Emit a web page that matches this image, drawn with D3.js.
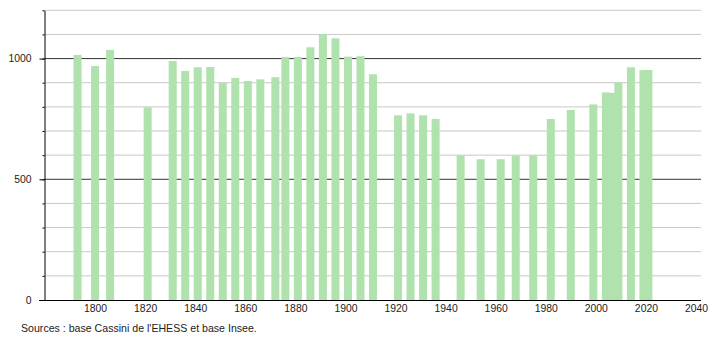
<!DOCTYPE html>
<html>
<head>
<meta charset="utf-8">
<script src="https://cdn.jsdelivr.net/npm/d3@7"></script>
<style>
  body { margin: 0; background: #fff; }
  text { font-family: "Liberation Sans", Arial, sans-serif; }
</style>
</head>
<body>
<div id="chart"></div>
<script>
// census years and population
const years = [1793, 1800, 1806, 1821, 1831, 1836, 1841, 1846, 1851, 1856,
  1861, 1866, 1872, 1876, 1881, 1886, 1891, 1896, 1901, 1906,
  1911, 1921, 1926, 1931, 1936, 1946, 1954, 1962, 1968, 1975,
  1982, 1990, 1999, 2004, 2006, 2009, 2014, 2019, 2021]
const population = [1015, 969, 1036, 798, 990, 949, 964, 965, 899, 920,
  907, 914, 923, 1007, 1007, 1047, 1101, 1084, 1008, 1010,
  935, 765, 773, 765, 750, 599, 583, 583, 598, 599,
  750, 787, 810, 860, 858, 902, 964, 952, 953]
const xTicks = [1800, 1820, 1840, 1860, 1880, 1900, 1920, 1940, 1960, 1980, 2000, 2020, 2040]
const yMajor = [0, 500, 1000]
const yMinor = d3.range(0, 1201, 100)
const sourceText = "Sources : base Cassini de l'EHESS et base Insee."

let width = 710
let height = 340

let svg = d3.select("#chart")
  .append("svg")
  .attr("width", width)
  .attr("height", height)

let x = d3.scaleLinear().domain([1780, 2042]).range([45, 701])
let y = d3.scaleLinear().domain([0, 1200]).range([300, 10.3])

// light grid every 100
svg.append("g")
  .selectAll("line")
  .data(yMinor.filter(v => !yMajor.includes(v)))
  .enter().append("line")
  .attr("x1", 44.5)
  .attr("x2", 701)
  .attr("y1", d => y(d))
  .attr("y2", d => y(d))
  .attr("stroke", "#c8c8c8")
  .attr("stroke-width", 1)

// darker lines at 500 and 1000
svg.append("g")
  .selectAll("line")
  .data(yMajor.filter(v => v > 0))
  .enter().append("line")
  .attr("x1", 44.5)
  .attr("x2", 701)
  .attr("y1", d => y(d))
  .attr("y2", d => y(d))
  .attr("stroke", "#333")
  .attr("stroke-width", 1)

// bars
const half = 1.6
svg.append("g")
  .selectAll("rect")
  .data(years)
  .enter().append("rect")
  .attr("x", d => x(d - half))
  .attr("width", d => x(d + half) - x(d - half))
  .attr("y", (d, i) => y(population[i]))
  .attr("height", (d, i) => y(0) - y(population[i]))
  .attr("fill", "#b0e2ad")

// y axis: minor ticks
svg.append("g")
  .attr("transform", "translate(44.5,0)")
  .call(d3.axisLeft(y).tickValues(yMinor).tickSize(2).tickFormat(""))
  .call(g => g.select(".domain").remove())
  .selectAll("line").attr("stroke", "#000")

// y axis: labelled ticks
let yAxis = svg.append("g")
  .attr("transform", "translate(44.5,0)")
  .call(d3.axisLeft(y).tickValues(yMajor).tickSize(5).tickPadding(8).tickSizeOuter(0).tickFormat(d3.format("d")))
yAxis.select(".domain").attr("stroke", "#000")
yAxis.selectAll("text")
  .attr("font-size", 10.4)
  .attr("font-family", "Liberation Sans, Arial, sans-serif")
  .attr("fill", "#222")

// x axis
let xAxis = svg.append("g")
  .attr("transform", "translate(0,300)")
  .call(d3.axisBottom(x).tickValues(xTicks).tickSize(0).tickPadding(5).tickFormat(d3.format("d")))
xAxis.select(".domain").remove()
xAxis.selectAll("text")
  .attr("font-size", 10.4)
  .attr("font-family", "Liberation Sans, Arial, sans-serif")
  .attr("fill", "#222")

svg.append("line")
  .attr("x1", 39)
  .attr("x2", 701)
  .attr("y1", 300.5)
  .attr("y2", 300.5)
  .attr("stroke", "#000")

// source line
svg.append("text")
  .attr("x", 21)
  .attr("y", 332)
  .attr("font-size", 10.6)
  .attr("fill", "#222")
  .text(sourceText)
</script>
</body>
</html>
